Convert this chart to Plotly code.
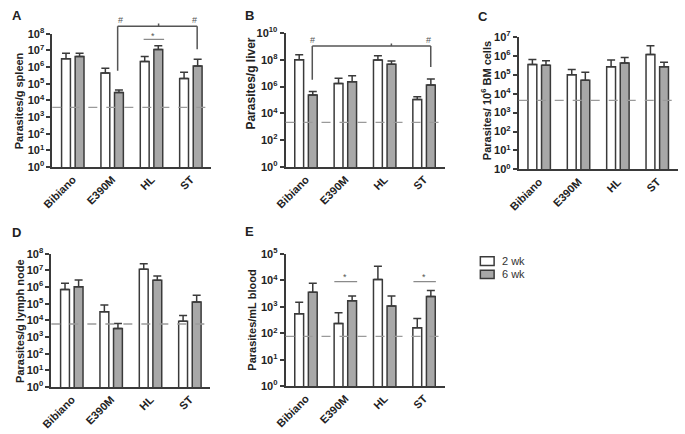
import numpy as np
import plotly.graph_objects as go

categories = ["Bibiano", "E390M", "HL", "ST"]
series_names = ["2 wk", "6 wk"]

# Panel A: spleen
spleen_2wk = [3.2e6, 4.5e5, 2.2e6, 2.1e5]
spleen_2wk_top = [6.8e6, 8.7e5, 4.3e6, 4.9e5]
spleen_6wk = [4.3e6, 3.0e4, 1.15e7, 1.15e6]
spleen_6wk_top = [6.8e6, 4.3e4, 1.95e7, 3.0e6]
spleen_lod = 3.8e3

# Panel B: liver
liver_2wk = [1.0e8, 1.7e6, 9.5e7, 1.1e5]
liver_2wk_top = [2.3e8, 4.1e6, 1.95e8, 1.7e5]
liver_6wk = [2.3e5, 2.3e6, 4.5e7, 1.3e6]
liver_6wk_top = [4.3e5, 6.3e6, 7.9e7, 3.6e6]
liver_lod = 2.1e3

# Panel C: bone marrow
bm_2wk = [3.5e5, 1.0e5, 2.7e5, 1.2e6]
bm_2wk_top = [6.5e5, 1.9e5, 6.0e5, 3.5e6]
bm_6wk = [3.2e5, 5.2e4, 4.2e5, 2.7e5]
bm_6wk_top = [5.6e5, 1.35e5, 8.3e5, 4.6e5]
bm_lod = 4.5e3

# Panel D: lymph node
ln_2wk = [7.3e5, 3.3e4, 1.2e7, 9.0e3]
ln_2wk_top = [1.7e6, 8.5e4, 2.5e7, 2.0e4]
ln_6wk = [1.05e6, 3.3e3, 2.6e6, 1.3e5]
ln_6wk_top = [2.7e6, 6.5e3, 4.6e6, 3.2e5]
ln_lod = 6.1e3

# Panel E: blood
blood_2wk = [550, 235, 1.08e4, 163]
blood_2wk_top = [1.5e3, 600, 3.5e4, 363]
blood_6wk = [3.6e3, 1.7e3, 1.07e3, 2.5e3]
blood_6wk_top = [7.8e3, 2.6e3, 2.6e3, 4.2e3]
blood_lod = 76

W, H = 685, 434
FONT = "Liberation Sans, Arial, sans-serif"
DARK = "#3a3a3a"
GRAY_FILL = "#a8a8a8"
FILLS = ["white", GRAY_FILL]

panels = [
    dict(letter="A", title="Parasites/g spleen", v2=spleen_2wk, t2=spleen_2wk_top,
         v6=spleen_6wk, t6=spleen_6wk_top, lod=spleen_lod, xpx=(42, 203.6), ypx=(26.7, 164.3),
         ymax=8, dtick=1, tx=9, ty=95.5, tsize=11, lx=6, ly=8),
    dict(letter="B", title="Parasites/g liver", v2=liver_2wk, t2=liver_2wk_top,
         v6=liver_6wk, t6=liver_6wk_top, lod=liver_lod, xpx=(279, 440.6), ypx=(25.7, 164.3),
         ymax=10, dtick=2, tx=244, ty=78, tsize=12, lx=242, ly=8),
    dict(letter="C", title="Parasites/ 10<sup>6</sup> BM cells", v2=bm_2wk, t2=bm_2wk_top,
         v6=bm_6wk, t6=bm_6wk_top, lod=bm_lod, xpx=(516, 677.6), ypx=(30, 166.7),
         ymax=7, dtick=1, tx=483, ty=96, tsize=11, lx=480, ly=9),
    dict(letter="D", title="Parasites/g lymph node", v2=ln_2wk, t2=ln_2wk_top,
         v6=ln_6wk, t6=ln_6wk_top, lod=ln_lod, xpx=(41, 202.6), ypx=(254, 391.7),
         ymax=8, dtick=1, tx=8.5, ty=324, tsize=11, lx=6, ly=232),
    dict(letter="E", title="Parasites/mL blood", v2=blood_2wk, t2=blood_2wk_top,
         v6=blood_6wk, t6=blood_6wk_top, lod=blood_lod, xpx=(279, 440.6), ypx=(254.3, 390.7),
         ymax=5, dtick=1, tx=245.5, ty=322.5, tsize=11, lx=242, ly=231),
]

xidx = list(range(len(categories)))
fig = go.Figure()
shapes = []
annotations = []
layout = {}

for i, p in enumerate(panels, start=1):
    xa = "x" if i == 1 else f"x{i}"
    ya = "y" if i == 1 else f"y{i}"
    for name, vals, tops, fill, off in [
        (series_names[0], p["v2"], p["t2"], FILLS[0], -0.285),
        (series_names[1], p["v6"], p["t6"], FILLS[1], 0.06),
    ]:
        fig.add_trace(go.Bar(
            x=xidx, y=vals, name=name, width=0.225, offset=off,
            marker=dict(color=fill, line=dict(color=DARK, width=1.5)),
            error_y=dict(type="data", symmetric=False,
                         array=[t - v for t, v in zip(tops, vals)],
                         arrayminus=[0] * len(vals),
                         color=DARK, thickness=1.5, width=4),
            xaxis=xa, yaxis=ya, showlegend=False,
        ))
    layout[f"xaxis{'' if i == 1 else i}"] = dict(
        domain=[p["xpx"][0] / W, p["xpx"][1] / W], anchor=ya,
        range=[-0.52, 3.52], tickvals=xidx, ticktext=categories, tickangle=-45,
        showline=True, linecolor=DARK, linewidth=1.8, ticks="", showgrid=False,
        zeroline=False, tickfont=dict(family=FONT, size=11, color="#222", weight="bold"),
    )
    exps = list(range(0, p["ymax"] + 1, p["dtick"]))
    layout[f"yaxis{'' if i == 1 else i}"] = dict(
        domain=[1 - p["ypx"][1] / H, 1 - p["ypx"][0] / H], anchor=xa,
        type="log", range=[0, p["ymax"]],
        tickvals=[10.0 ** e for e in exps],
        ticktext=[f"10<sup>{e}</sup>" for e in exps],
        showline=True, linecolor=DARK, linewidth=1.8, ticks="outside", ticklen=4,
        tickwidth=1.5, tickcolor=DARK, showgrid=False, zeroline=False,
        tickfont=dict(family=FONT, size=11, color="#222", weight="bold"),
    )
    # limit of detection (position given as fraction of the log axis)
    f = np.log10(p["lod"]) / p["ymax"]
    shapes.append(dict(type="line", xref=f"{xa} domain", yref=f"{ya} domain", x0=0, x1=1,
                       y0=f, y1=f, layer="above",
                       line=dict(color="#9a9a9a", width=1.3, dash="dash")))
    annotations.append(dict(text=f"<b>{p['title']}</b>", xref="paper", yref="paper",
                            x=p["tx"] / W, y=1 - p["ty"] / H, textangle=-90,
                            showarrow=False, xanchor="center", yanchor="middle",
                            font=dict(family=FONT, size=p["tsize"], color="#222")))
    annotations.append(dict(text=f"<b>{p['letter']}</b>", xref="paper", yref="paper",
                            x=p["lx"] / W, y=1 - p["ly"] / H, showarrow=False,
                            xanchor="center", yanchor="middle",
                            font=dict(family=FONT, size=13, color="#222")))

# significance marks: x in group units, y as log10 value converted to axis-domain fraction
BR = "#555555"
def seg(ax, top, x0, lg0, x1, lg1, color=BR, w=1.5):
    xa = "x" if ax == 1 else f"x{ax}"
    ya = "y domain" if ax == 1 else f"y{ax} domain"
    shapes.append(dict(type="line", xref=xa, yref=ya, x0=x0, x1=x1,
                       y0=lg0 / top, y1=lg1 / top, line=dict(color=color, width=w)))

def mark(ax, top, x, lg, t, size=9):
    xa = "x" if ax == 1 else f"x{ax}"
    ya = "y domain" if ax == 1 else f"y{ax} domain"
    annotations.append(dict(text=t, xref=xa, yref=ya, x=x, y=lg / top, showarrow=False,
                            xanchor="center", yanchor="middle",
                            font=dict(family=FONT, size=size, color="#555")))

# Panel A
seg(1, 8, 1.14, 8.45, 3.16, 8.45)
seg(1, 8, 1.14, 8.45, 1.14, 5.78)
seg(1, 8, 3.16, 8.45, 3.16, 7.07)
seg(1, 8, 2.18, 8.45, 2.18, 8.62)
mark(1, 8, 1.2, 8.82, "#", 9)
mark(1, 8, 3.1, 8.82, "#", 9)
seg(1, 8, 1.8, 7.67, 2.32, 7.67, color="#8a8a8a", w=1.2)
mark(1, 8, 2.04, 7.88, "*", 9)

# Panel B
seg(2, 10, 0.16, 9.02, 3.17, 9.02)
seg(2, 10, 0.16, 9.02, 0.16, 6.51)
seg(2, 10, 3.17, 9.02, 3.17, 7.45)
seg(2, 10, 2.17, 9.02, 2.17, 9.2)
mark(2, 10, 0.17, 9.5, "#", 9)
mark(2, 10, 3.12, 9.5, "#", 9)

# Panel E
seg(5, 5, 0.72, 3.96, 1.3, 3.96, color="#8a8a8a", w=1.2)
seg(5, 5, 2.73, 3.96, 3.3, 3.96, color="#8a8a8a", w=1.2)
mark(5, 5, 1.0, 4.13, "*", 9)
mark(5, 5, 3.0, 4.13, "*", 9)

# legend (swatches + labels, paper coordinates)
leg_rows = [(257, 266), (271, 279.5)]
for name, fill, (t, b) in zip(series_names, FILLS, leg_rows):
    shapes.append(dict(type="rect", xref="paper", yref="paper",
                       x0=477 / W, x1=491 / W, y0=1 - b / H, y1=1 - t / H,
                       fillcolor=fill, line=dict(color=DARK, width=1.5)))
    annotations.append(dict(text=name, xref="paper", yref="paper", x=497 / W,
                            y=1 - (t + b) / 2 / H, xanchor="left", yanchor="middle",
                            showarrow=False, font=dict(family=FONT, size=11, color="#333")))

fig.update_layout(
    width=W, height=H, margin=dict(l=0, r=0, t=0, b=0),
    paper_bgcolor="white", plot_bgcolor="white",
    barmode="overlay", showlegend=False,
    shapes=shapes, annotations=annotations, font=dict(family=FONT),
    **layout,
)

fig.write_html("out.html", config={"displayModeBar": False},
               post_script="document.body.style.margin='0px';")
